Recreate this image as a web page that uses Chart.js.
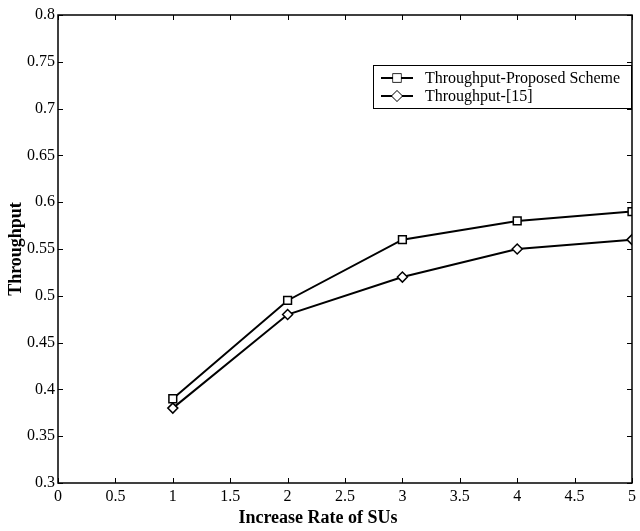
<!DOCTYPE html>
<html lang="en">
<head>
  <meta charset="UTF-8" />
  <title>Throughput vs Increase Rate of SUs</title>
  <script src="https://cdn.jsdelivr.net/npm/chart.js"></script>
  <style>
    html, body { margin: 0; padding: 0; background: #fff; }
    #wrap { width: 640px; height: 531px; }
  </style>
</head>
<body>
  <div id="wrap"><canvas id="tputChart"></canvas></div>

  <script>
    // values
    const rates = [1, 2, 3, 4, 5];
    const proposed = [0.39, 0.495, 0.56, 0.58, 0.59];
    const ref15 = [0.38, 0.48, 0.52, 0.55, 0.56];
    const seriesNames = ['Throughput-Proposed Scheme', 'Throughput-[15]'];
    const xTitle = 'Increase Rate of SUs';
    const yTitle = 'Throughput';

    const serif = '"Liberation Serif", "Times New Roman", serif';

    // MATLAB-like box with inward ticks, legend and axis titles
    const matlabFrame = {
      id: 'matlabFrame',
      afterDraw(chart) {
        const { ctx, chartArea: a, scales } = chart;
        ctx.save();
        ctx.strokeStyle = '#000';
        ctx.lineWidth = 1.5;
        ctx.strokeRect(a.left, a.top, a.right - a.left, a.bottom - a.top);

        ctx.lineWidth = 1;
        const tl = 5;
        ctx.beginPath();
        scales.x.ticks.forEach(t => {
          const px = Math.round(scales.x.getPixelForValue(t.value)) + 0.5;
          ctx.moveTo(px, a.bottom); ctx.lineTo(px, a.bottom - tl);
          ctx.moveTo(px, a.top); ctx.lineTo(px, a.top + tl);
        });
        scales.y.ticks.forEach(t => {
          const py = Math.round(scales.y.getPixelForValue(t.value)) + 0.5;
          ctx.moveTo(a.left, py); ctx.lineTo(a.left + tl, py);
          ctx.moveTo(a.right, py); ctx.lineTo(a.right - tl, py);
        });
        ctx.stroke();

        // legend
        const lx = 373, ly = 65, lw = 258, lh = 43;
        ctx.fillStyle = '#fff';
        ctx.fillRect(lx, ly, lw, lh);
        ctx.lineWidth = 1;
        ctx.strokeRect(lx + 0.5, ly + 0.5, lw, lh);
        chart.data.datasets.forEach((ds, i) => {
          const cy = ly + 13 + i * 18;
          ctx.beginPath();
          ctx.lineWidth = 2;
          ctx.strokeStyle = '#000';
          ctx.moveTo(lx + 8, cy); ctx.lineTo(lx + 40, cy);
          ctx.stroke();
          ctx.fillStyle = '#fff';
          ctx.lineWidth = 1.5;
          Chart.helpers.drawPoint(ctx, { pointStyle: ds.pointStyle, radius: ds.pointRadius, borderWidth: 1.5 }, lx + 24, cy);
          ctx.fill();
          ctx.fillStyle = '#000';
          ctx.font = '16px ' + serif;
          ctx.textBaseline = 'middle';
          ctx.textAlign = 'left';
          ctx.fillText(ds.label, lx + 52, cy + 1);
        });

        // axis titles
        ctx.fillStyle = '#000';
        ctx.font = 'bold 18px ' + serif;
        ctx.textAlign = 'center';
        ctx.textBaseline = 'middle';
        ctx.fillText(xTitle, 318, 518);
        ctx.save();
        ctx.translate(16, (a.top + a.bottom) / 2);
        ctx.rotate(-Math.PI / 2);
        ctx.fillText(yTitle, 0, 0);
        ctx.restore();
        ctx.restore();
      }
    };

    new Chart(document.getElementById('tputChart'), {
      type: 'line',
      data: {
        datasets: [
          {
            label: seriesNames[0],
            data: rates.map((r, i) => ({ x: r, y: proposed[i] })),
            borderColor: '#000',
            borderWidth: 2,
            pointStyle: 'rect',
            pointRadius: 5.5,
            pointBorderWidth: 1.5,
            pointBorderColor: '#000',
            pointBackgroundColor: '#fff',
            tension: 0
          },
          {
            label: seriesNames[1],
            data: rates.map((r, i) => ({ x: r, y: ref15[i] })),
            borderColor: '#000',
            borderWidth: 2,
            pointStyle: 'rectRot',
            pointRadius: 5,
            pointBorderWidth: 1.5,
            pointBorderColor: '#000',
            pointBackgroundColor: '#fff',
            tension: 0
          }
        ]
      },
      options: {
        responsive: true,
        maintainAspectRatio: false,
        animation: false,
        layout: { padding: { top: 15, right: 5, left: 0, bottom: 0 } },
        plugins: {
          legend: { display: false },
          tooltip: { enabled: false }
        },
        scales: {
          x: {
            type: 'linear',
            min: 0,
            max: 5,
            afterFit: s => { s.height = 48; },
            grid: { display: false, drawTicks: false },
            border: { display: false },
            ticks: {
              stepSize: 0.5,
              color: '#000',
              padding: 4,
              maxRotation: 0,
              autoSkip: false,
              font: { family: serif, size: 16 },
              callback: v => String(+v.toFixed(1))
            }
          },
          y: {
            min: 0.3,
            max: 0.8,
            afterFit: s => { s.width = 58; },
            grid: { display: false, drawTicks: false },
            border: { display: false },
            ticks: {
              stepSize: 0.05,
              color: '#000',
              padding: 3,
              autoSkip: false,
              font: { family: serif, size: 16 },
              callback: v => String(+v.toFixed(2))
            }
          }
        }
      },
      plugins: [matlabFrame]
    });
  </script>
</body>
</html>
